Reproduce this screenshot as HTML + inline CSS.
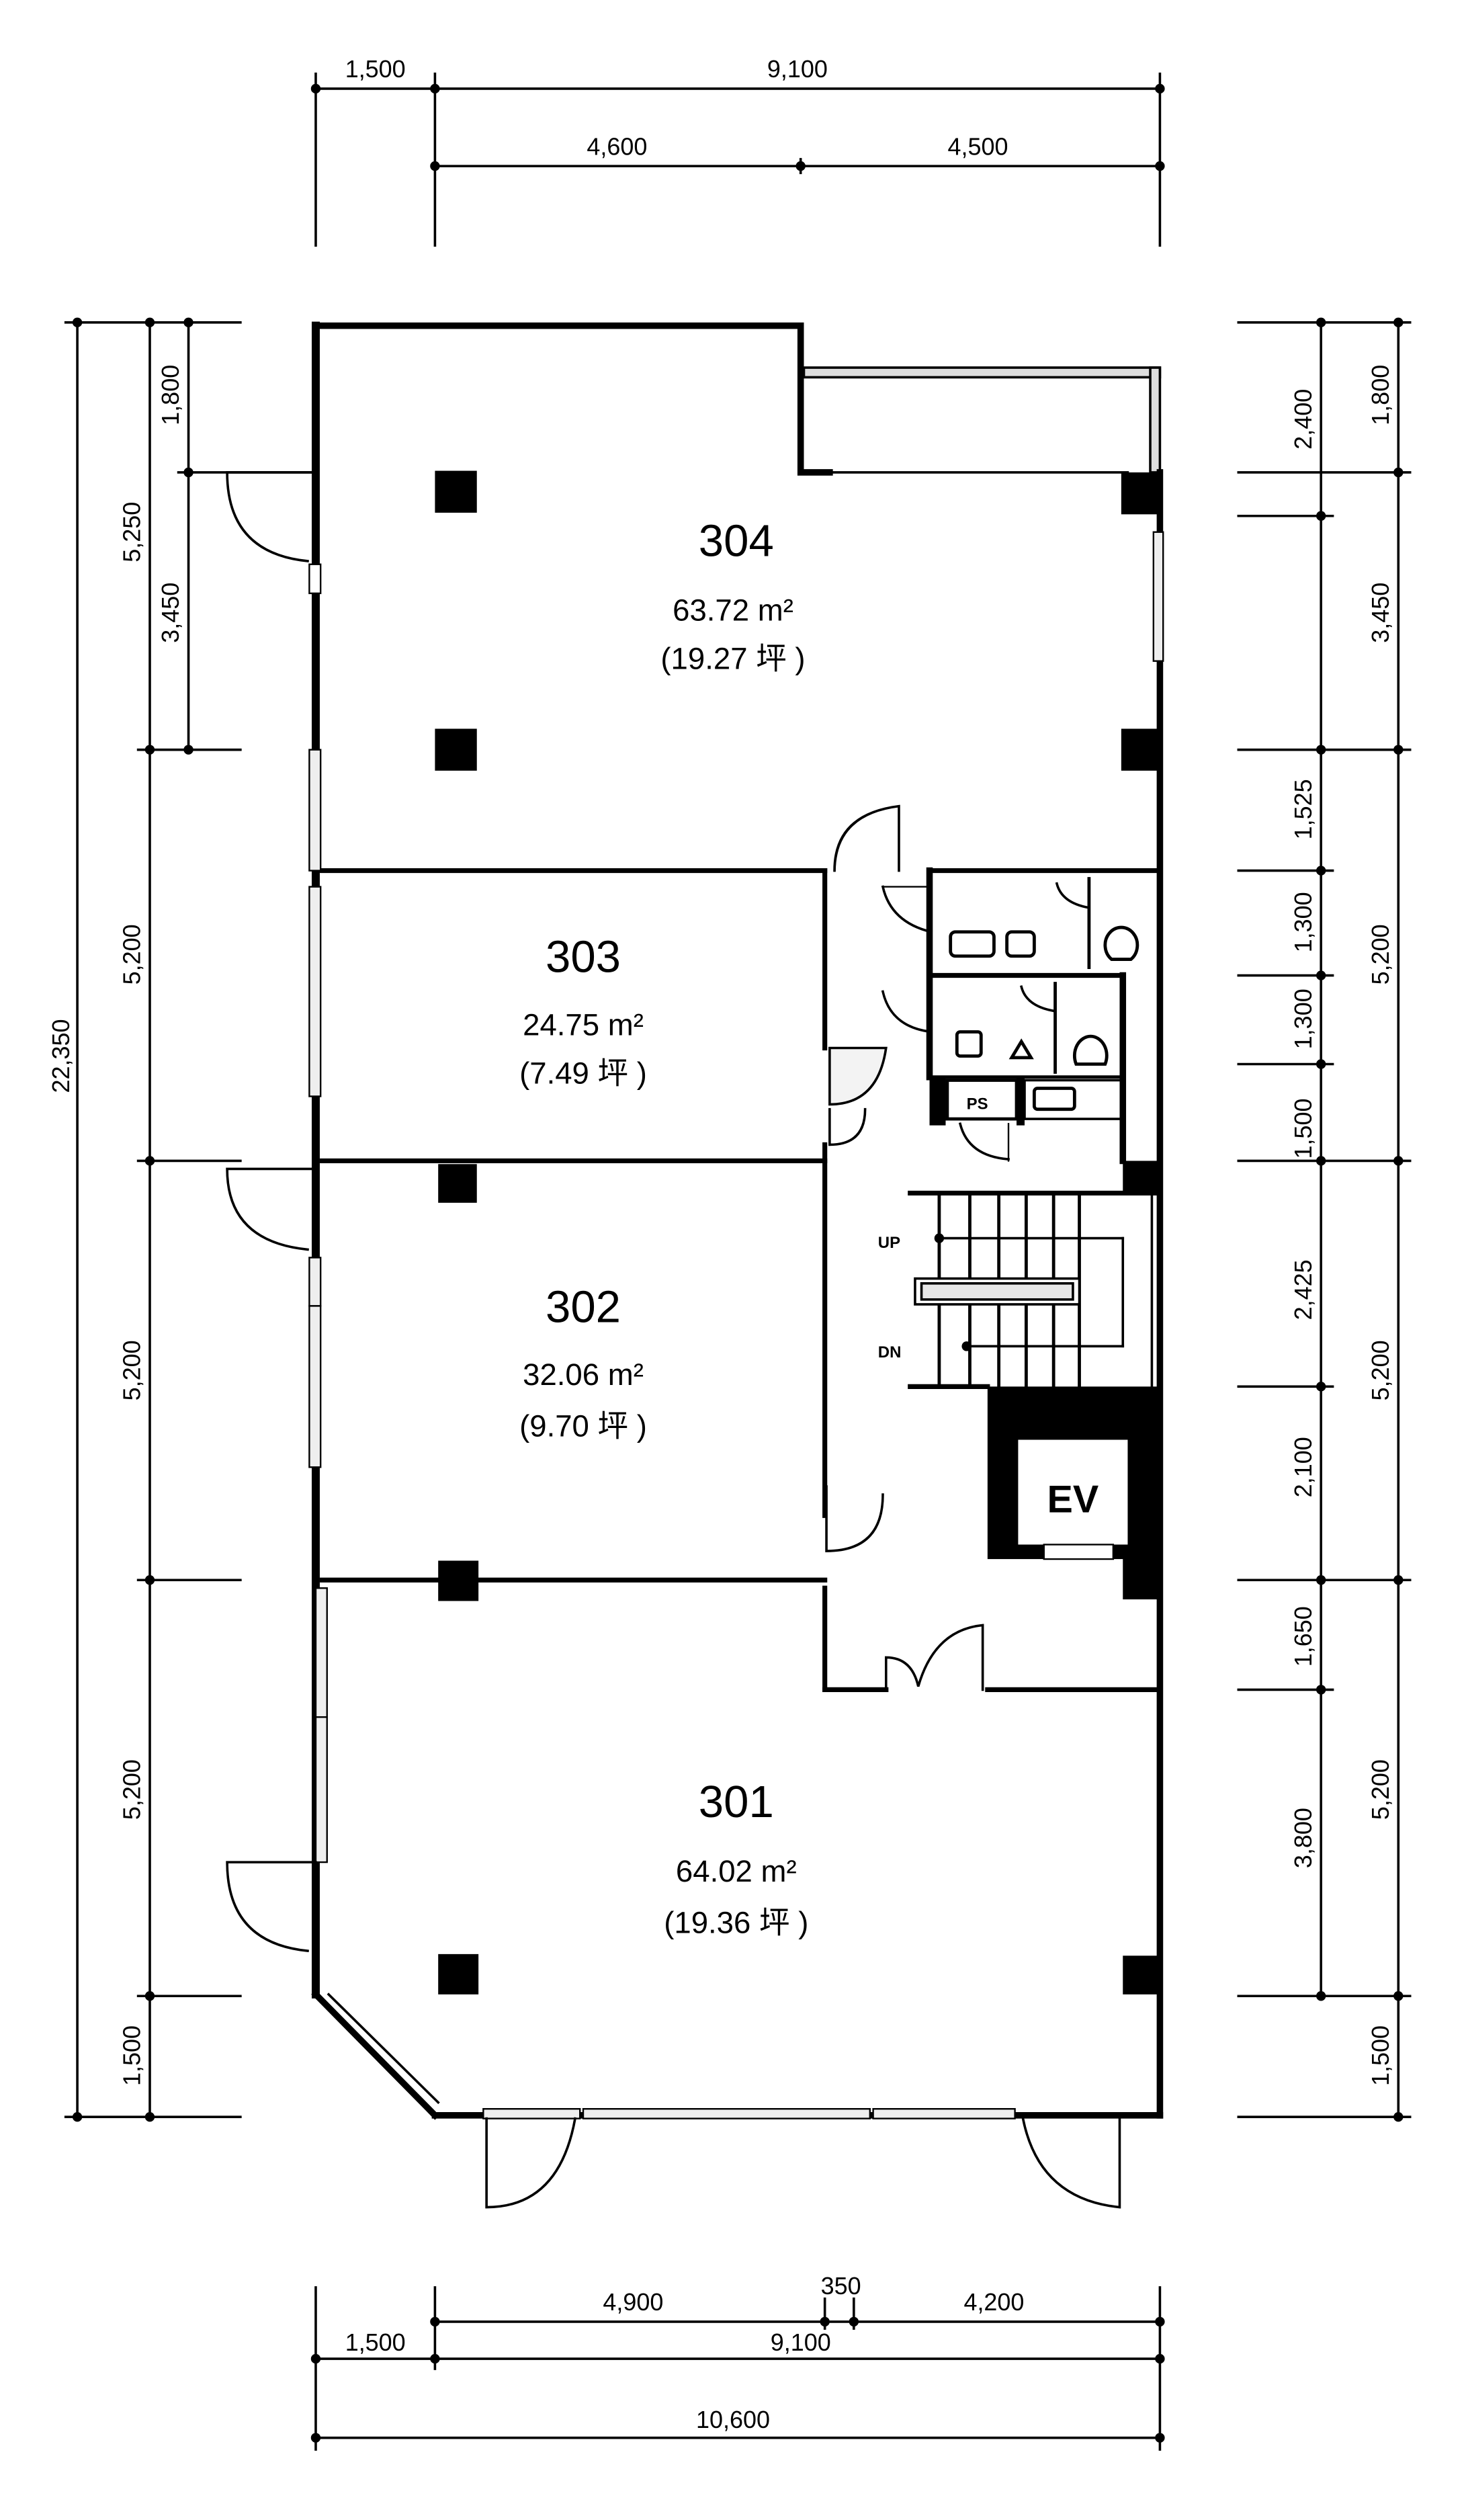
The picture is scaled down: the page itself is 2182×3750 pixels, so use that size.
<!DOCTYPE html>
<html><head><meta charset="utf-8"><style>
html,body{margin:0;padding:0;background:#fff;}
svg{display:block;}
text{font-family:"Liberation Sans","Noto Sans CJK JP",sans-serif;fill:#000;}
</style></head><body>
<svg width="2182" height="3750" viewBox="0 0 910 1563" preserveAspectRatio="none" xmlns="http://www.w3.org/2000/svg">
<rect width="910" height="1563" fill="#fff"/>
<g stroke="#000" stroke-width="1.5" fill="none">
<line x1="196" y1="55" x2="720" y2="55"/><line x1="270" y1="103" x2="720" y2="103"/>
<line x1="196" y1="45" x2="196" y2="153"/><line x1="270" y1="45" x2="270" y2="153"/>
<line x1="720" y1="45" x2="720" y2="153"/><line x1="497" y1="98" x2="497" y2="108"/>
<line x1="48" y1="200" x2="48" y2="1313"/><line x1="93" y1="200" x2="93" y2="1313"/><line x1="117" y1="200" x2="117" y2="465"/>
<line x1="40" y1="200" x2="150" y2="200"/><line x1="110" y1="293" x2="196" y2="293"/>
<line x1="85" y1="465" x2="150" y2="465"/><line x1="85" y1="720" x2="150" y2="720"/>
<line x1="85" y1="980" x2="150" y2="980"/><line x1="85" y1="1238" x2="150" y2="1238"/>
<line x1="40" y1="1313" x2="150" y2="1313"/>
<line x1="820" y1="200" x2="820" y2="1238"/><line x1="868" y1="200" x2="868" y2="1313"/>
<line x1="768" y1="200" x2="876" y2="200"/><line x1="768" y1="293" x2="876" y2="293"/>
<line x1="768" y1="320" x2="828" y2="320"/><line x1="768" y1="465" x2="876" y2="465"/>
<line x1="768" y1="540" x2="828" y2="540"/><line x1="768" y1="605" x2="828" y2="605"/>
<line x1="768" y1="660" x2="828" y2="660"/><line x1="768" y1="720" x2="876" y2="720"/>
<line x1="768" y1="860" x2="828" y2="860"/><line x1="768" y1="980" x2="876" y2="980"/>
<line x1="768" y1="1048" x2="828" y2="1048"/><line x1="768" y1="1238" x2="876" y2="1238"/>
<line x1="768" y1="1313" x2="876" y2="1313"/>
<line x1="270" y1="1440" x2="720" y2="1440"/><line x1="196" y1="1463" x2="720" y2="1463"/><line x1="196" y1="1512" x2="720" y2="1512"/>
<line x1="196" y1="1418" x2="196" y2="1520"/><line x1="270" y1="1418" x2="270" y2="1470"/><line x1="720" y1="1418" x2="720" y2="1520"/>
<line x1="512" y1="1425" x2="512" y2="1445"/><line x1="530" y1="1425" x2="530" y2="1445"/>
</g>
<g fill="#000">
<circle cx="196" cy="55" r="3"/><circle cx="270" cy="55" r="3"/><circle cx="720" cy="55" r="3"/>
<circle cx="270" cy="103" r="3"/><circle cx="497" cy="103" r="3"/><circle cx="720" cy="103" r="3"/>
<circle cx="48" cy="200" r="3"/><circle cx="93" cy="200" r="3"/><circle cx="117" cy="200" r="3"/><circle cx="117" cy="293" r="3"/><circle cx="117" cy="465" r="3"/>
<circle cx="93" cy="465" r="3"/><circle cx="93" cy="720" r="3"/><circle cx="93" cy="980" r="3"/><circle cx="93" cy="1238" r="3"/><circle cx="93" cy="1313" r="3"/><circle cx="48" cy="1313" r="3"/>
<circle cx="820" cy="200" r="3"/><circle cx="868" cy="200" r="3"/><circle cx="868" cy="293" r="3"/><circle cx="820" cy="320" r="3"/><circle cx="820" cy="465" r="3"/><circle cx="868" cy="465" r="3"/>
<circle cx="820" cy="540" r="3"/><circle cx="820" cy="605" r="3"/><circle cx="820" cy="660" r="3"/><circle cx="820" cy="720" r="3"/><circle cx="868" cy="720" r="3"/>
<circle cx="820" cy="860" r="3"/><circle cx="820" cy="980" r="3"/><circle cx="868" cy="980" r="3"/><circle cx="820" cy="1048" r="3"/><circle cx="820" cy="1238" r="3"/><circle cx="868" cy="1238" r="3"/><circle cx="868" cy="1313" r="3"/>
<circle cx="270" cy="1440" r="3"/><circle cx="512" cy="1440" r="3"/><circle cx="530" cy="1440" r="3"/><circle cx="720" cy="1440" r="3"/>
<circle cx="196" cy="1463" r="3"/><circle cx="270" cy="1463" r="3"/><circle cx="720" cy="1463" r="3"/><circle cx="196" cy="1512" r="3"/><circle cx="720" cy="1512" r="3"/>
</g>
<g font-size="15" text-anchor="middle">
<text x="233" y="48">1,500</text><text x="495" y="48">9,100</text>
<text x="383" y="96">4,600</text><text x="607" y="96">4,500</text>
<text x="393" y="1433">4,900</text><text x="522" y="1423">350</text><text x="617" y="1433">4,200</text>
<text x="233" y="1458">1,500</text><text x="497" y="1458">9,100</text><text x="455" y="1506">10,600</text>
<text transform="translate(43,655) rotate(-90)">22,350</text>
<text transform="translate(87,330) rotate(-90)">5,250</text>
<text transform="translate(111,245) rotate(-90)">1,800</text>
<text transform="translate(111,380) rotate(-90)">3,450</text>
<text transform="translate(87,592) rotate(-90)">5,200</text>
<text transform="translate(87,850) rotate(-90)">5,200</text>
<text transform="translate(87,1110) rotate(-90)">5,200</text>
<text transform="translate(87,1275) rotate(-90)">1,500</text>
<text transform="translate(862,245) rotate(-90)">1,800</text>
<text transform="translate(814,260) rotate(-90)">2,400</text>
<text transform="translate(862,380) rotate(-90)">3,450</text>
<text transform="translate(814,502) rotate(-90)">1,525</text>
<text transform="translate(814,572) rotate(-90)">1,300</text>
<text transform="translate(862,592) rotate(-90)">5,200</text>
<text transform="translate(814,632) rotate(-90)">1,300</text>
<text transform="translate(814,700) rotate(-90)">1,500</text>
<text transform="translate(814,800) rotate(-90)">2,425</text>
<text transform="translate(862,850) rotate(-90)">5,200</text>
<text transform="translate(814,910) rotate(-90)">2,100</text>
<text transform="translate(814,1015) rotate(-90)">1,650</text>
<text transform="translate(862,1110) rotate(-90)">5,200</text>
<text transform="translate(814,1140) rotate(-90)">3,800</text>
<text transform="translate(862,1275) rotate(-90)">1,500</text>
</g>
<g stroke="#000" fill="none" stroke-linecap="square">
<polyline points="196,202 497,202 497,293 515,293" stroke-width="4"/>
<rect x="499" y="228" width="221" height="6" stroke-width="1.5" fill="#ddd"/>
<rect x="714" y="228" width="6" height="65" stroke-width="1.5" fill="#ddd"/>
<line x1="515" y1="293" x2="700" y2="293" stroke-width="1.5"/>
<line x1="720" y1="293" x2="720" y2="1312" stroke-width="4"/>
<line x1="196" y1="202" x2="196" y2="1237" stroke-width="5"/>
<line x1="196" y1="1237" x2="270" y2="1312" stroke-width="4"/>
<line x1="204" y1="1237" x2="272" y2="1304" stroke-width="1.5"/>
<line x1="270" y1="1312" x2="720" y2="1312" stroke-width="4"/>
<line x1="200" y1="540" x2="512" y2="540" stroke-width="3"/>
<line x1="577" y1="540" x2="720" y2="540" stroke-width="3"/>
<line x1="200" y1="720" x2="512" y2="720" stroke-width="3"/>
<line x1="200" y1="980" x2="512" y2="980" stroke-width="3"/>
<line x1="512" y1="540" x2="512" y2="650" stroke-width="3"/>
<line x1="512" y1="710" x2="512" y2="940" stroke-width="3"/>
<line x1="512" y1="985" x2="512" y2="1048" stroke-width="3"/>
<line x1="512" y1="1048" x2="550" y2="1048" stroke-width="3"/>
<line x1="613" y1="1048" x2="720" y2="1048" stroke-width="3"/>
<line x1="577" y1="540" x2="577" y2="668" stroke-width="4"/>
<line x1="577" y1="605" x2="697" y2="605" stroke-width="3"/>
<line x1="697" y1="605" x2="697" y2="720" stroke-width="4"/>
<line x1="577" y1="668" x2="697" y2="668" stroke-width="2"/>
<line x1="676" y1="545" x2="676" y2="600" stroke-width="2"/>
<line x1="655" y1="610" x2="655" y2="665" stroke-width="2"/>
<rect x="588" y="670" width="43" height="24" stroke-width="2"/>
<rect x="636" y="670" width="60" height="24" stroke-width="1.5"/>
<rect x="590" y="578" width="27" height="15" rx="3" stroke-width="2"/>
<rect x="625" y="578" width="17" height="15" rx="3" stroke-width="2"/>
<rect x="594" y="640" width="15" height="15" rx="2" stroke-width="2"/>
<rect x="642" y="675" width="25" height="13" rx="2" stroke-width="2"/>
<path d="M690,595 a10,11 0 1,1 12,0 z" stroke-width="2"/>
<path d="M668,660 a10,12 0 1,1 18,0 z" stroke-width="2"/>
<path d="M628,656 l6,-10 l6,10 z" stroke-width="2"/>
<path d="M548,550 q5,22 30,28" stroke-width="1.5"/><line x1="548" y1="550" x2="578" y2="550"/>
<path d="M548,615 q5,22 30,25" stroke-width="1.5"/>
<path d="M656,548 q3,12 20,15" stroke-width="1.5"/>
<path d="M634,612 q3,12 20,15" stroke-width="1.5"/>
<path d="M596,697 q5,20 30,22" stroke-width="1.5"/><line x1="626" y1="697" x2="626" y2="720"/>
<path d="M518,540 q0,-35 40,-40 l0,40" stroke-width="1.5"/>
<path d="M515,650 l0,35 q30,0 35,-35 z" stroke-width="1.5" fill="#f3f3f3"/>
<path d="M515,688 l0,22 q22,0 22,-22" stroke-width="1.5"/>
<path d="M513,922 l0,40 q35,0 35,-35" stroke-width="1.5"/>
<path d="M550,1048 l0,-20 q16,0 20,18 q10,-35 40,-38 l0,40" stroke-width="1.5"/>
<line x1="565" y1="740" x2="720" y2="740" stroke-width="3"/>
<line x1="565" y1="860" x2="613" y2="860" stroke-width="3"/>
<g stroke-width="2">
<line x1="583" y1="740" x2="583" y2="860"/><line x1="602" y1="740" x2="602" y2="860"/><line x1="620" y1="740" x2="620" y2="860"/>
<line x1="637" y1="740" x2="637" y2="860"/><line x1="654" y1="740" x2="654" y2="860"/><line x1="670" y1="740" x2="670" y2="860"/>
</g>
<line x1="583" y1="768" x2="697" y2="768" stroke-width="1.5"/>
<line x1="600" y1="835" x2="697" y2="835" stroke-width="1.5"/>
<line x1="697" y1="768" x2="697" y2="835" stroke-width="1.5"/>
<rect x="568" y="793" width="102" height="16" stroke-width="1.5" fill="#fff"/>
<rect x="572" y="796" width="94" height="10" stroke-width="1.5" fill="#e6e6e6"/>
<line x1="715" y1="740" x2="715" y2="860" stroke-width="1.5"/>
<rect x="192" y="350" width="7" height="18" stroke-width="1" fill="#fff"/>
<rect x="192" y="465" width="7" height="75" stroke-width="1" fill="#eee"/>
<rect x="192" y="550" width="7" height="130" stroke-width="1" fill="#eee"/>
<rect x="192" y="780" width="7" height="30" stroke-width="1" fill="#eee"/>
<rect x="192" y="810" width="7" height="100" stroke-width="1" fill="#eee"/>
<rect x="196" y="985" width="7" height="80" stroke-width="1" fill="#eee"/>
<rect x="196" y="1065" width="7" height="90" stroke-width="1" fill="#eee"/>
<rect x="716" y="330" width="6" height="80" stroke-width="1" fill="#eee"/>
<rect x="300" y="1308" width="60" height="6" stroke-width="1" fill="#eee"/>
<rect x="362" y="1308" width="178" height="6" stroke-width="1" fill="#eee"/>
<rect x="542" y="1308" width="88" height="6" stroke-width="1" fill="#eee"/>
<path d="M196,293 l-55,0 q0,50 50,55" stroke-width="1.5"/>
<path d="M196,725 l-55,0 q0,45 50,50" stroke-width="1.5"/>
<path d="M196,1155 l-55,0 q0,50 50,55" stroke-width="1.5"/>
<path d="M302,1314 l0,55 q45,0 55,-55" stroke-width="1.5"/>
<path d="M695,1314 l0,55 q-50,-5 -60,-55" stroke-width="1.5"/>
</g>
<g fill="#000">
<rect x="270" y="292" width="26" height="26"/><rect x="270" y="452" width="26" height="26"/>
<rect x="272" y="722" width="24" height="24"/><rect x="272" y="968" width="25" height="25"/><rect x="272" y="1212" width="25" height="25"/>
<rect x="696" y="293" width="24" height="26"/><rect x="696" y="452" width="24" height="26"/><rect x="697" y="1213" width="23" height="24"/>
<rect x="697" y="720" width="23" height="20"/>
<rect x="613" y="860" width="107" height="107"/>
<rect x="697" y="960" width="23" height="32"/>
<rect x="577" y="668" width="10" height="30"/>
<rect x="631" y="668" width="5" height="30"/>
</g>
<rect x="632" y="893" width="68" height="65" fill="#fff"/>
<rect x="648" y="958" width="43" height="9" fill="#fff" stroke="#000" stroke-width="1"/>
<text x="666" y="938" font-size="24" font-weight="bold" text-anchor="middle">EV</text>
<g font-size="10" font-weight="bold">
<text x="545" y="774">UP</text><text x="545" y="842">DN</text><text x="600" y="688">PS</text>
</g>
<circle cx="583" cy="768" r="3"/><circle cx="600" cy="835" r="3"/>
<g text-anchor="middle">
<text x="457" y="345" font-size="28">304</text><text x="455" y="385" font-size="19">63.72 m²</text><text x="455" y="415" font-size="19">(19.27 坪 )</text>
<text x="362" y="603" font-size="28">303</text><text x="362" y="642" font-size="19">24.75 m²</text><text x="362" y="672" font-size="19">(7.49 坪 )</text>
<text x="362" y="820" font-size="28">302</text><text x="362" y="859" font-size="19">32.06 m²</text><text x="362" y="891" font-size="19">(9.70 坪 )</text>
<text x="457" y="1127" font-size="28">301</text><text x="457" y="1167" font-size="19">64.02 m²</text><text x="457" y="1199" font-size="19">(19.36 坪 )</text>
</g>
</svg>
</body></html>
